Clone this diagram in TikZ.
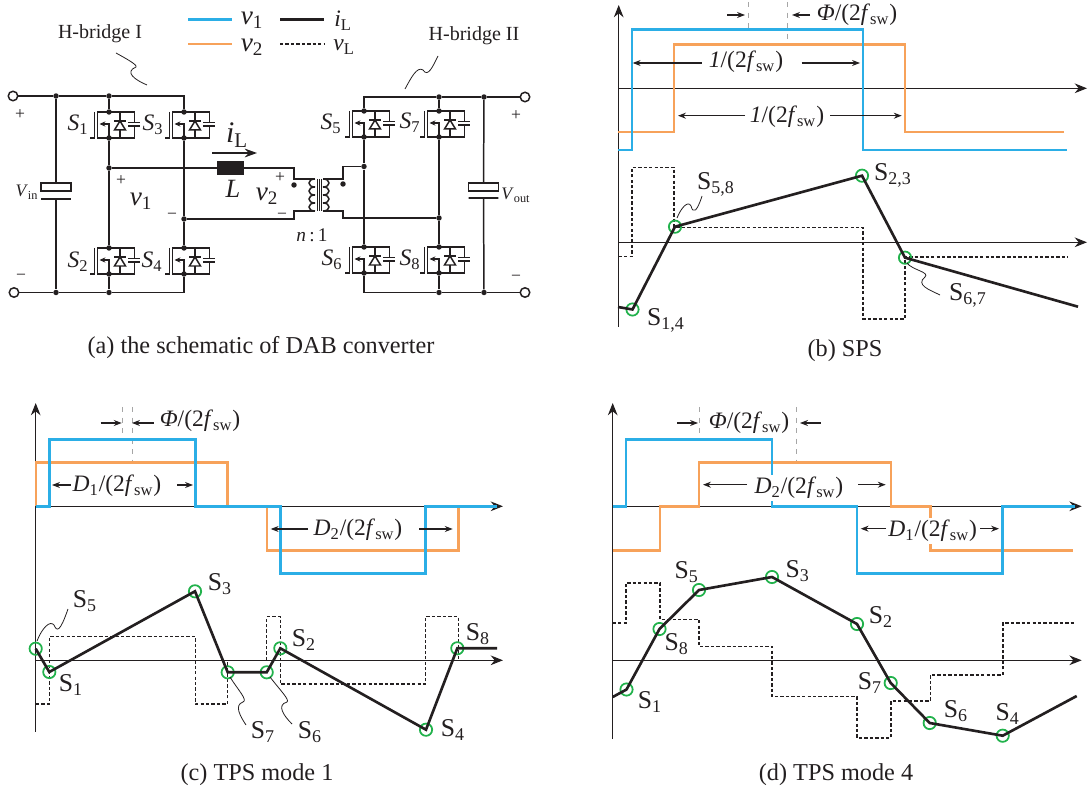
\documentclass[tikz,border=0pt]{standalone}
\usepackage{fontspec}
\setmainfont{Liberation Serif}
\usetikzlibrary{arrows.meta}

\definecolor{vblue}{HTML}{2BAEE6}
\definecolor{vorange}{HTML}{F7A25A}
\definecolor{swgreen}{HTML}{22B24C}
\definecolor{ink}{HTML}{231F20}

\newcommand{\fsw}{\textit{f}\textsubscript{sw}}
\newcommand{\Sit}[1]{\textit{S}\textsubscript{#1}}
\newcommand{\Srm}[1]{S\textsubscript{#1}}

\tikzset{
  wire/.style={line width=0.85pt, ink},
  dot/.style={circle, fill=ink, inner sep=0pt, minimum size=3.1pt},
  term/.style={circle, draw=ink, line width=0.85pt, fill=white, inner sep=0pt, minimum size=5.4pt},
  capbox/.style={draw=ink, line width=0.85pt, inner sep=0pt, minimum width=17pt, minimum height=4.6pt},
  plate/.style={draw=ink, line width=0.85pt, inner sep=0pt, minimum width=17pt, minimum height=0pt},
  txt/.style={inner sep=0pt, text=ink, font=\fontsize{10pt}{11pt}\selectfont},
  hbl/.style={txt, font=\fontsize{11.4pt}{13pt}\selectfont},
  big/.style={txt, font=\fontsize{13.4pt}{15pt}\selectfont},
  swl/.style={txt, font=\fontsize{14.6pt}{16pt}\selectfont},
  captxt/.style={txt, font=\fontsize{13.8pt}{15pt}\selectfont},
  huge/.style={txt, font=\fontsize{15.5pt}{17pt}\selectfont},
  axis/.style={line width=0.7pt, ink, -{Stealth[length=7pt,width=5.5pt]}},
  dim/.style={line width=0.6pt, ink, -{Stealth[length=4.5pt,width=3.4pt]}},
  guide/.style={line width=0.3pt, gray!70, dashed},
  leader/.style={line width=0.45pt, ink},
  bluew/.style={line width=1.5pt, vblue},
  orangew/.style={line width=1.5pt, vorange},
  vlw/.style={line width=0.9pt, ink, dash pattern=on 1.9pt off 1.2pt},
  ilw/.style={line width=1.5pt, ink},
  sw/.style={circle, draw=swgreen, line width=1pt, inner sep=0pt, minimum size=7pt},
  mosfet/.pic={
    \draw[wire] (0,26) -- (-11.3,26) -- (-11.3,0) -- (25.3,0) -- (25.3,10.7);
    \draw[wire] (25.3,14) -- (25.3,26) -- (0,26);
    \draw[wire] (-14.3,0) -- (-14.3,26) -- (-19.5,26);
    \draw[wire] (0,26) -- (0,12) -- (-3,12);
    \draw[wire, -{Stealth[length=3.4pt,width=3pt]}] (-2,12) -- (-9.5,12);
    \draw[wire] (11,0) -- (11,26);
    \draw[wire, fill=white] (5.5,18) -- (16.5,18) -- (11,9) -- cycle;
    \draw[wire] (5,9) -- (17,9);
    \draw[wire] (19,10.7) -- (30.5,10.7);
    \draw[wire] (19,14) -- (30.5,14);
    \node[dot] (-top) at (0,0) {};
    \node[dot] (-bot) at (0,26) {};
  }
}

\begin{document}
\begin{tikzpicture}[x=0.02cm, y=-0.02cm]
\useasboundingbox (0,0) rectangle (1091,793);

% legend
\node[huge] (lv1) at (252,20) {\textit{v}\textsubscript{1}};
\node[huge] (lv2) at (252,47) {\textit{v}\textsubscript{2}};
\node[big] (liL) at (343,21) {\textit{i}\textsubscript{L}};
\node[big] (lvL) at (344,47) {\textit{v}\textsubscript{L}};
\coordinate (lg1) at (188,20); \coordinate (lg2) at (232,20);
\coordinate (lg3) at (188,44); \coordinate (lg4) at (232,44);
\coordinate (lg5) at (280,20); \coordinate (lg6) at (324,20);
\coordinate (lg7) at (280,44); \coordinate (lg8) at (324,44);
\draw[bluew, line width=1.7pt] (lg1) -- (lg2);
\draw[orangew, line width=1.7pt] (lg3) -- (lg4);
\draw[ilw, line width=1.7pt] (lg5) -- (lg6);
\draw[vlw] (lg7) -- (lg8);

% converter
\pic (S1) at (109,112) {mosfet};
\pic (S3) at (184,112) {mosfet};
\pic (S2) at (109,248) {mosfet};
\pic (S4) at (184,248) {mosfet};
\pic (S5) at (364,111) {mosfet};
\pic (S7) at (439,111) {mosfet};
\pic (S6) at (364,247) {mosfet};
\pic (S8) at (439,247) {mosfet};

\node[term] (tin1) at (13,96) {};
\node[term] (tin2) at (14,292.5) {};
\node[term] (tout1) at (525,97) {};
\node[term] (tout2) at (525,292.5) {};
\node[dot] (j1) at (56,96) {};
\node[dot] (j2) at (109,96) {};
\coordinate (j3) at (184,96);
\node[dot] (j4) at (56,292.5) {};
\node[dot] (j5) at (109,292.5) {};
\coordinate (j6) at (184,292.5);
\node[dot] (j7) at (109,168) {};
\node[dot] (j8) at (184,219) {};
\coordinate (j9) at (364,97);
\node[dot] (j10) at (439,97) {};
\node[dot] (j11) at (484,97) {};
\coordinate (j12) at (364,292.5);
\node[dot] (j13) at (439,292.5) {};
\node[dot] (j14) at (484,292.5) {};
\node[dot] (j15) at (364,166.5) {};
\node[dot] (j16) at (439,218) {};
\node[capbox] (cin) at (56,187) {};
\node[plate] (cinp) at (56,199) {};
\node[capbox] (cout) at (483.5,187) {};
\node[plate] (coutp) at (483.5,198) {};
\node[draw=ink, fill=ink, inner sep=0pt, minimum width=15pt, minimum height=7.4pt] (ind) at (230.5,168) {};
\node[dot] (pdot) at (294,185) {};
\node[dot] (sdot) at (343,184) {};
\coordinate (tp1) at (315,179); \coordinate (tp2) at (315,211);
\coordinate (ts1) at (323,179); \coordinate (ts2) at (323,211);

\draw[wire] (tin1) -- (j1) -- (j2) -- (j3) -- (S3-top);
\draw[wire] (tin2) -- (j4) -- (j5) -- (j6) -- (S4-bot);
\draw[wire] (j1) -- (cin);
\draw[wire] (cinp) -- (j4);
\draw[wire] (j2) -- (S1-top);
\draw[wire] (S1-bot) -- (j7) -- (S2-top);
\draw[wire] (S2-bot) -- (j5);
\draw[wire] (S3-bot) -- (j8) -- (S4-top);
\draw[wire] (j7) -- (ind);
\draw[wire] (ind) -- (294,168) -- (294,179) -- (tp1);
\draw[wire] (j8) -- (294,219) -- (294,211) -- (tp2);
\draw[wire] (tout1) -- (j11) -- (j10) -- (j9) -- (S5-top);
\draw[wire] (tout2) -- (j14) -- (j13) -- (j12) -- (S6-bot);
\draw[wire] (j10) -- (S7-top);
\draw[wire] (S7-bot) -- (j16) -- (S8-top);
\draw[wire] (S8-bot) -- (j13);
\draw[wire] (S5-bot) -- (j15) -- (S6-top);
\draw[wire] (j11) -- (cout);
\draw[wire] (coutp) -- (j14);
\draw[wire] (ts1) -- (343,179) -- (343,166.5) -- (j15);
\draw[wire] (ts2) -- (343,211) -- (343,218) -- (j16);
\foreach \i in {0,1,2,3} {
  \draw[wire] (315,179+\i*8) .. controls (307,179+\i*8) and (307,187+\i*8) .. (315,187+\i*8);
  \draw[wire] (323,179+\i*8) .. controls (331,179+\i*8) and (331,187+\i*8) .. (323,187+\i*8);
}
\draw[wire, line width=0.5pt] (317,179) -- (317,211);
\draw[wire, line width=0.5pt] (319,179) -- (319,211);
\draw[wire, line width=0.5pt] (321,179) -- (321,211);

\node[big] (lS1) at (78,125) {\Sit{1}};
\node[big] (lS3) at (153,125) {\Sit{3}};
\node[big] (lS2) at (78,262) {\Sit{2}};
\node[big] (lS4) at (152,262) {\Sit{4}};
\node[big] (lS5) at (331,124) {\Sit{5}};
\node[big] (lS7) at (410,123) {\Sit{7}};
\node[big] (lS6) at (332,260) {\Sit{6}};
\node[big] (lS8) at (410,260) {\Sit{8}};
\node[txt] (lvin) at (27,192) {\textit{V}\textsubscript{in}};
\node[txt] (lvout) at (516,195) {\textit{V}\textsubscript{out}};
\node[hbl] (hb1) at (100,34) {H-bridge I};
\node[hbl] (hb2) at (474,36) {H-bridge II};
\node[txt] (pin) at (20,115) {+};
\node[txt] (min) at (21,277) {\textminus};
\node[txt] (pout) at (516,116) {+};
\node[txt] (mout) at (516,278) {\textminus};
\node[huge, font=\fontsize{17pt}{19pt}\selectfont] (il) at (237,135) {\textit{i}\textsubscript{L}};
\node[big, font=\fontsize{15pt}{17pt}\selectfont] (lL) at (233,189) {\textit{L}};
\node[huge] (v1) at (141,201) {\textit{v}\textsubscript{1}};
\node[huge] (v2) at (267,196) {\textit{v}\textsubscript{2}};
\node[txt] (p1) at (121,181) {+};
\node[txt] (m1) at (172,216) {\textminus};
\node[txt] (p2) at (280,178) {+};
\node[txt] (m2) at (282,216) {\textminus};
\node[txt, font=\fontsize{11pt}{12pt}\selectfont] (nn) at (312,235) {\textit{n}\,:\,1};
\coordinate (ila) at (212,153); \coordinate (ilb) at (257,153);
\draw[wire, -{Stealth[length=7pt,width=5pt]}] (ila) -- (ilb);
\draw[leader] (116,53) .. controls (125,58) and (138,65) .. (136,67) .. controls (124,72) and (135,80) .. (147,85);
\draw[leader] (405,89) .. controls (411,78) and (417,66) .. (423,70) .. controls (428,78) and (433,66) .. (438,56);

% captions
\node[captxt] (capa) at (261,348) {(a) the schematic of DAB converter};
\node[captxt] (capb) at (845,351) {(b) SPS};
\node[captxt] (capc) at (257,775) {(c) TPS mode 1};
\node[captxt] (capd) at (836,775) {(d) TPS mode 4};

% SPS
\coordinate (by0) at (618.7,327); \coordinate (by1) at (618.7,5);
\coordinate (bx1) at (618.7,88.3); \coordinate (bx2) at (1087,88.3);
\coordinate (bx3) at (618.7,242.3); \coordinate (bx4) at (1087,242.3);
\draw[axis] (by0) -- (by1);
\draw[axis] (bx1) -- (bx2);
\draw[axis] (bx3) -- (bx4);
\draw[guide] (748,2) -- (748,30);
\draw[guide] (787,2) -- (787,45);
\draw[vlw] (618.7,256.7) -- (632,256.7) -- (632,167.3) -- (674,167.3) -- (674,227.3) -- (863,227.3) -- (863,319) -- (905,319) -- (905,257) -- (1068,257);
\draw[orangew] (618,132) -- (674,132) -- (674,44.7) -- (905,44.7) -- (905,132) -- (1064,132);
\draw[bluew] (618,150) -- (632,150) -- (632,29.7) -- (863,29.7) -- (863,150) -- (1067,150);
\node[sw] (b14) at (632.5,309.5) {};
\node[sw] (b58) at (675,226.7) {};
\node[sw] (b23) at (862,175.7) {};
\node[sw] (b67) at (905,257.7) {};
\coordinate (bi0) at (618,307); \coordinate (bi1) at (1078,306.7);
\draw[ilw] (bi0) -- (b14.center) -- (b58.center) -- (b23.center) -- (b67.center) -- (bi1);
\node[swl] (lb14) at (666,320) {\Srm{1,4}};
\node[swl] (lb58) at (716,184) {\Srm{5,8}};
\node[swl] (lb23) at (893,175) {\Srm{2,3}};
\node[swl] (lb67) at (968,295) {\Srm{6,7}};
\draw[leader] (677,218) .. controls (681,208) and (688,200) .. (691,206) .. controls (693,214) and (697,212) .. (702,196);
\draw[leader] (907,263) .. controls (912,270) and (930,272) .. (925,277) .. controls (915,285) and (930,290) .. (940,295);
\node[big] (bphi) at (857,15) {\textit{Φ}/(2\fsw)};
\node[big] (bt1) at (746,62) {\textit{1}/(2\fsw)};
\node[big] (bt2) at (787,117) {\textit{1}/(2\fsw)};
\draw[dim] (727,15) -- (745,15);
\draw[dim] (810,15) -- (792,15);
\draw[dim] (701.7,63) -- (632.7,63);
\draw[dim] (801.7,63) -- (860,63);
\draw[dim] (745,115.7) -- (678,115.7);
\draw[dim] (830,115.7) -- (901.7,115.7);

% TPS mode 1
\coordinate (cy0) at (35.7,731.7); \coordinate (cy1) at (35.7,403);
\coordinate (cx1) at (35.7,506.3); \coordinate (cx2) at (503,506.3);
\coordinate (cx3) at (35.7,660.3); \coordinate (cx4) at (503,660.3);
\draw[axis] (cy0) -- (cy1);
\draw[axis] (cx1) -- (cx2);
\draw[axis] (cx3) -- (cx4);
\draw[guide] (122.7,407) -- (122.7,439);
\draw[guide] (132,407) -- (132,462);
\draw[vlw] (36,704) -- (49.3,704) -- (49.3,636.5) -- (195.3,636.5) -- (195.3,704) -- (227.7,704) -- (227.7,660);
\draw[vlw] (266.7,660) -- (266.7,616.7) -- (280.3,616.7) -- (280.3,684) -- (425.7,684) -- (425.7,616.7) -- (458.3,616.7) -- (458.3,660);
\draw[orangew] (36,506.3) -- (36,462.3) -- (227.7,462.3) -- (227.7,506.3) -- (267,506.3) -- (267,550.3) -- (458.3,550.3) -- (458.3,506.3);
\draw[bluew] (36,506.3) -- (49.3,506.3) -- (49.3,439.3) -- (195.3,439.3) -- (195.3,506.3) -- (280.3,506.3) -- (280.3,573.7) -- (425.7,573.7) -- (425.7,506.3) -- (497,506.3);
\node[sw] (c5) at (35.7,648.7) {};
\node[sw] (c1) at (49.3,672) {};
\node[sw] (c3) at (195,591.3) {};
\node[sw] (c7) at (227.7,672.3) {};
\node[sw] (c6) at (266.7,672.3) {};
\node[sw] (c2) at (280.3,648.3) {};
\node[sw] (c4) at (426,729.7) {};
\node[sw] (c8) at (457.3,648.3) {};
\coordinate (ci1) at (497,648.3);
\draw[ilw] (c5.center) -- (c1.center) -- (c3.center) -- (c7.center) -- (c6.center) -- (c2.center) -- (c4.center) -- (c8.center) -- (ci1);
\node[swl] (lc5) at (85,601) {\Srm{5}};
\node[swl] (lc1) at (71,685) {\Srm{1}};
\node[swl] (lc3) at (220,584) {\Srm{3}};
\node[swl] (lc7) at (263,732) {\Srm{7}};
\node[swl] (lc6) at (310,732) {\Srm{6}};
\node[swl] (lc2) at (304,640) {\Srm{2}};
\node[swl] (lc4) at (453,730) {\Srm{4}};
\node[swl] (lc8) at (478,634) {\Srm{8}};
\draw[leader] (37,641) .. controls (42,628) and (50,620) .. (54,625) .. controls (57,632) and (60,632) .. (68,609);
\draw[leader] (230,677) .. controls (238,690) and (248,700) .. (243,702) .. controls (234,705) and (240,716) .. (246,725);
\draw[leader] (270,677) .. controls (280,690) and (290,700) .. (287,702) .. controls (276,705) and (284,716) .. (292,724);
\node[big] (cphi) at (200,421) {\textit{Φ}/(2\fsw)};
\node[big] (cd1) at (117,486) {\textit{D}\textsubscript{1}/(2\fsw)};
\node[big] (cd2) at (358,530) {\textit{D}\textsubscript{2}/(2\fsw)};
\draw[dim] (100.7,423) -- (121.7,423);
\draw[dim] (153.7,423) -- (132,423);
\draw[dim] (70.7,485) -- (52,485);
\draw[dim] (177,485) -- (193,485);
\draw[dim] (308,529) -- (270.7,529);
\draw[dim] (419,529) -- (452.7,529);

% TPS mode 4
\coordinate (dy0) at (612.7,739); \coordinate (dy1) at (612.7,403);
\coordinate (dx1) at (612.7,506.3); \coordinate (dx2) at (1081.7,506.3);
\coordinate (dx3) at (612.7,660.3); \coordinate (dx4) at (1081.7,660.3);
\draw[axis] (dy0) -- (dy1);
\draw[axis] (dx1) -- (dx2);
\draw[axis] (dx3) -- (dx4);
\draw[guide] (699,407) -- (699,439);
\draw[guide] (796,407) -- (796,462);
\draw[vlw] (612.7,623) -- (626,623) -- (626,583) -- (660,583) -- (660,619.3) -- (699,619.3) -- (699,646.3) -- (772,646.3) -- (772,696.7) -- (857,696.7) -- (857,738) -- (891,738) -- (891,701) -- (930.3,701) -- (930.3,675) -- (1002.7,675) -- (1002.7,623) -- (1076,623);
\draw[orangew] (612.7,550.3) -- (660,550.3) -- (660,506.3) -- (699,506.3) -- (699,462.3) -- (891,462.3) -- (891,506.3) -- (930.3,506.3) -- (930.3,550.3) -- (1073,550.3);
\draw[bluew] (612.7,506.3) -- (626,506.3) -- (626,439.3) -- (772,439.3) -- (772,506.3) -- (857,506.3) -- (857,573.7) -- (1002.7,573.7) -- (1002.7,506.3) -- (1075,506.3);
\node[sw] (d1) at (626.5,689.5) {};
\node[sw] (d8) at (659.5,629) {};
\node[sw] (d5) at (699,590) {};
\node[sw] (d3) at (772,577) {};
\node[sw] (d2) at (857,624) {};
\node[sw] (d7) at (890.7,683) {};
\node[sw] (d6) at (929.7,723) {};
\node[sw] (d4) at (1002.7,735.7) {};
\coordinate (di0) at (612.7,697); \coordinate (di1) at (1076.7,696);
\draw[ilw] (di0) -- (d1.center) -- (d8.center) -- (d5.center) -- (d3.center) -- (d2.center) -- (d7.center) -- (d6.center) -- (d4.center) -- (di1);
\node[swl] (ld5) at (686.7,571.7) {\Srm{5}};
\node[swl] (ld3) at (797.7,571) {\Srm{3}};
\node[swl] (ld2) at (881,617) {\Srm{2}};
\node[swl] (ld8) at (676.7,644) {\Srm{8}};
\node[swl] (ld1) at (650,702) {\Srm{1}};
\node[swl] (ld7) at (870,683) {\Srm{7}};
\node[swl] (ld6) at (956,710.7) {\Srm{6}};
\node[swl] (ld4) at (1007.7,714) {\Srm{4}};
\node[big] (dphi) at (749,423) {\textit{Φ}/(2\fsw)};
\node[big, fill=white, inner sep=1pt] (dd2) at (799,488) {\textit{D}\textsubscript{2}/(2\fsw)};
\node[big, fill=white, inner sep=1pt] (dd1) at (932.7,531) {\textit{D}\textsubscript{1}/(2\fsw)};
\draw[dim] (677,423) -- (698,423);
\draw[dim] (820.7,423) -- (800,423);
\draw[dim] (747,484.7) -- (703,484.7);
\draw[dim] (858,484.7) -- (885.7,484.7);
\draw[dim] (886,528.7) -- (860.7,528.7);
\draw[dim] (980,528.7) -- (999,528.7);
\end{tikzpicture}
\end{document}
